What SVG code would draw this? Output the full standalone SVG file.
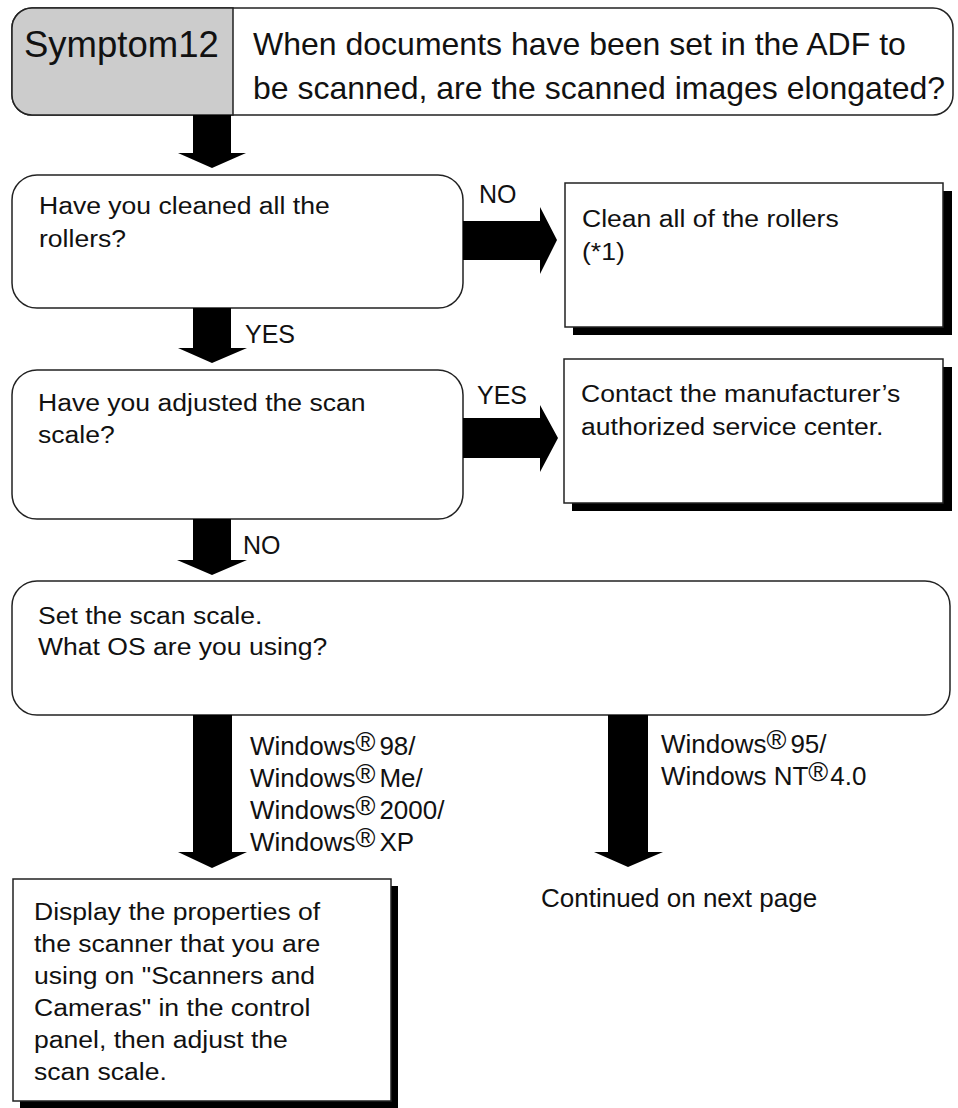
<svg xmlns="http://www.w3.org/2000/svg" width="958" height="1108" viewBox="0 0 958 1108">
<style>
.box{fill:#fff;stroke:#222;stroke-width:1.5}
.sh{fill:#000}
.arr{fill:#000;stroke:none}
text{font-family:"Liberation Sans",Arial,sans-serif;fill:#111}
.h1{font-size:36.5px}
.h2{font-size:32px}
.b{font-size:23.5px}
.lb{font-size:25px}
.w{font-size:26px}
.r{font-size:27px}
</style>
<rect width="958" height="1108" fill="#fff"/>
<g id="header">
<rect class="box" x="12" y="8" width="941" height="107" rx="20"/>
<path d="M233,8 H32 A20,20 0 0 0 12,28 V95 A20,20 0 0 0 32,115 H233 Z" fill="#cccccc" stroke="#222" stroke-width="1.5"/>
<text class="h1" x="24" y="57">Symptom12</text>
<text class="h2" x="253" y="55">When documents have been set in the ADF to</text>
<text class="h2" x="253" y="99">be scanned, are the scanned images elongated?</text>
</g>
<g id="q1">
<rect class="box" x="12" y="175" width="451" height="133" rx="25"/>
<text class="b" transform="translate(39,214) scale(1.13,1)"><tspan x="0" y="0">Have you cleaned all the</tspan><tspan x="0" y="33">rollers?</tspan></text>
</g>
<g id="a1">
<rect class="sh" x="573" y="191" width="379" height="144"/>
<rect class="box" x="565" y="183" width="378" height="144"/>
<text class="b" transform="translate(582,227) scale(1.13,1)"><tspan x="0" y="0">Clean all of the rollers</tspan><tspan x="0" y="33">(*1)</tspan></text>
</g>
<g id="q2">
<rect class="box" x="12" y="370" width="451" height="149" rx="25"/>
<text class="b" transform="translate(38,411) scale(1.13,1)"><tspan x="0" y="0">Have you adjusted the scan</tspan><tspan x="0" y="32">scale?</tspan></text>
</g>
<g id="a2">
<rect class="sh" x="572" y="367" width="380" height="144"/>
<rect class="box" x="564" y="359" width="379" height="144"/>
<text class="b" transform="translate(581,402) scale(1.13,1)"><tspan x="0" y="0">Contact the manufacturer’s</tspan><tspan x="0" y="33">authorized service center.</tspan></text>
</g>
<g id="q3">
<rect class="box" x="12" y="581" width="938" height="134" rx="25"/>
<text class="b" transform="translate(38,624) scale(1.13,1)"><tspan x="0" y="0">Set the scan scale.</tspan><tspan x="0" y="31">What OS are you using?</tspan></text>
</g>
<g id="a3">
<rect class="sh" x="20" y="886" width="378" height="222"/>
<rect class="box" x="13" y="879" width="378" height="222"/>
<text class="b" transform="translate(34,920) scale(1.13,1)"><tspan x="0" y="0">Display the properties of</tspan><tspan x="0" y="32">the scanner that you are</tspan><tspan x="0" y="64">using on "Scanners and</tspan><tspan x="0" y="96">Cameras" in the control</tspan><tspan x="0" y="128">panel, then adjust the</tspan><tspan x="0" y="160">scan scale.</tspan></text>
</g>
<g id="cont">
<text class="w" x="541" y="907">Continued on next page</text>
</g>
<g id="connectors">
<path class="arr" d="M193,115 V153 H178 L212,168 L246,153 H231 V115 Z"/>
<path class="arr" d="M193,308 V348 H178 L212,363 L247,348 H231 V308 Z"/>
<path class="arr" d="M193,519 V560 H177 L212,575 L247,560 H231 V519 Z"/>
<path class="arr" d="M193,715 V852 H178 L212,868 L247,852 H232 V715 Z"/>
<path class="arr" d="M608,715 V852 H594 L628,867 L663,852 H648 V715 Z"/>
<path class="arr" d="M463,221 H540 V207 L557,240 L540,274 V260 H463 Z"/>
<path class="arr" d="M463,418 H540 V405 L558,438 L540,472 V458 H463 Z"/>
<text class="lb" x="245" y="343">YES</text>
<text class="lb" x="479" y="203">NO</text>
<text class="lb" x="477" y="404">YES</text>
<text class="lb" x="243" y="554">NO</text>
<text class="w" x="250" y="755">Windows<tspan class="r" dy="-4">®</tspan><tspan dx="4" dy="4">98/</tspan></text>
<text class="w" x="250" y="787">Windows<tspan class="r" dy="-4">®</tspan><tspan dx="4" dy="4">Me/</tspan></text>
<text class="w" x="250" y="819">Windows<tspan class="r" dy="-4">®</tspan><tspan dx="4" dy="4">2000/</tspan></text>
<text class="w" x="250" y="851">Windows<tspan class="r" dy="-4">®</tspan><tspan dx="4" dy="4">XP</tspan></text>
<text class="w" x="661" y="753">Windows<tspan class="r" dy="-4">®</tspan><tspan dx="4" dy="4">95/</tspan></text>
<text class="w" x="661" y="785">Windows NT<tspan class="r" dy="-4">®</tspan><tspan dx="2" dy="4">4.0</tspan></text>
</g>
</svg>
